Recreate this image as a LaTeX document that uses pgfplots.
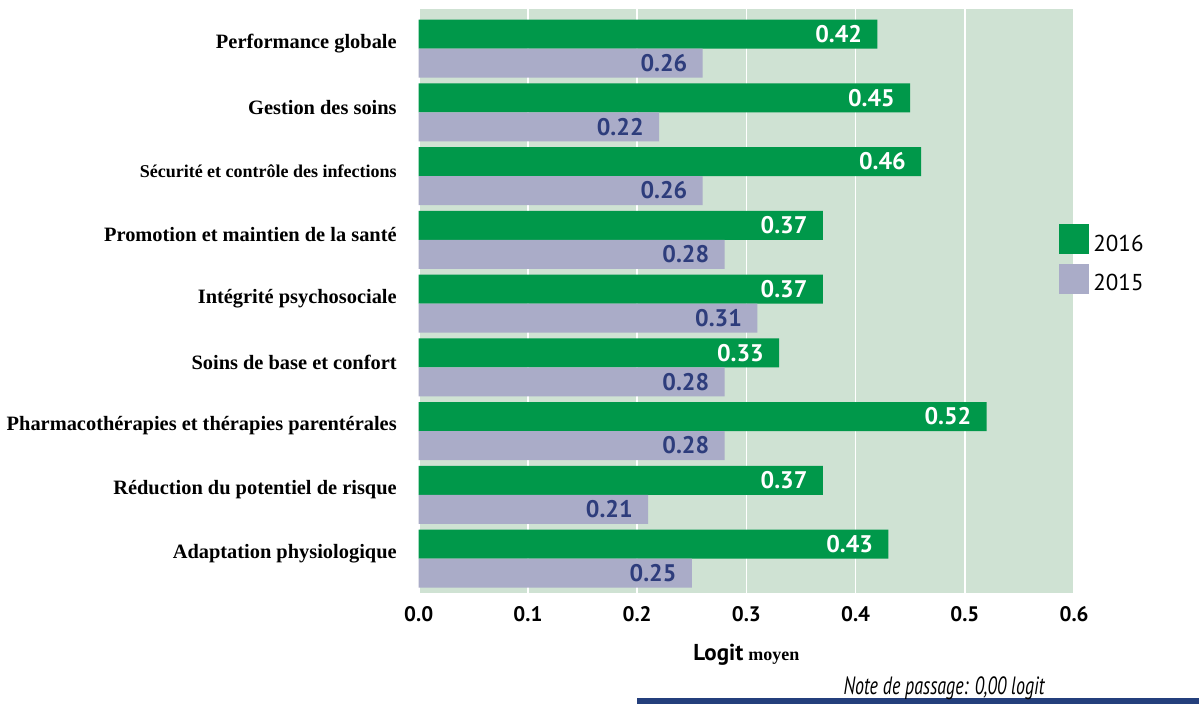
\documentclass[border=0pt]{standalone}
\usepackage{pgfplots}
\pgfplotsset{compat=1.18}
\usepackage{fontspec}
\usepackage{graphicx}
\setmainfont{Liberation Serif}
\newfontfamily\pts{PT Sans}
\definecolor{g16}{HTML}{00984A}
\definecolor{l15}{HTML}{AAACC8}
\definecolor{bg}{HTML}{CFE2D3}
\definecolor{navy}{HTML}{2E3D7C}
\definecolor{rulec}{HTML}{243F7C}
\begin{document}
\begin{tikzpicture}[x=1pt,y=1pt]
\useasboundingbox (0,0) rectangle (599.5,353);
\fill[rulec] (318.5,1) rectangle (599.5,4);
\node[anchor=base, inner sep=0pt] at (472,5.5) {\scalebox{0.72}[1]{\pts\itshape\fontsize{12.5}{14}\selectfont Note de passage: 0,00 logit}};
\begin{axis}[
  at={(209.35pt,56.5pt)}, anchor=south west,
  scale only axis, width=327.7pt, height=292pt,
  xbar, bar width=14.5pt,
  xmin=0, xmax=0.6, ymin=-0.62, ymax=8.54, y dir=reverse,
  axis background/.style={fill=bg},
  axis line style={draw=none},
  major tick length=0pt,
  xtick={0,0.1,0.2,0.3,0.4,0.5,0.6},
  ytick={0,1,2,3,4,5,6,7,8},
  yticklabels={Performance globale, Gestion des soins, {\fontsize{9}{10}\selectfont Sécurité et contrôle des infections}, Promotion et maintien de la santé, Intégrité psychosociale, Soins de base et confort, Pharmacothérapies et thérapies parentérales, Réduction du potentiel de risque, Adaptation physiologique},
  yticklabel style={font=\bfseries\fontsize{10.2}{12}\selectfont, inner sep=0pt, xshift=-10.8pt, yshift=2.5pt},
  xticklabel style={font=\pts\bfseries\fontsize{10.5}{12}\selectfont, yshift=-3pt},
  /pgf/number format/assume math mode=true,
  xticklabel={\pgfmathprintnumber[fixed,fixed zerofill,precision=1]{\tick}},
  xmajorgrids, grid style={white, line width=0.8pt},
  xlabel={{\pts\bfseries\fontsize{11.5}{12}\selectfont Logit} {\bfseries\fontsize{9}{10}\selectfont moyen}},
  x label style={at={(axis description cs:0.5,0)}, anchor=center, yshift=-31pt},
  point meta=x,
  nodes near coords={\pgfmathprintnumber[fixed,fixed zerofill,precision=2]{\pgfplotspointmeta}},
  every node near coord/.append style={anchor=east, inner sep=0pt, xshift=-7.5pt, font=\pts\bfseries\fontsize{12}{14}\selectfont},
  every axis plot/.append style={legend image code/.code={\fill[##1] (0pt,-5pt) rectangle (15pt,10pt);}},
  legend style={at={(0.977,0.632)}, anchor=north west, draw=none, fill=none, inner sep=0pt,
    font=\pts\fontsize{11.5}{14}\selectfont, row sep=3pt, cells={anchor=west}},
]
\addplot[fill=g16, draw=none, bar shift=7.25pt, every node near coord/.append style={text=white}] coordinates {
  (0.42,0) (0.45,1) (0.46,2) (0.37,3) (0.37,4) (0.33,5) (0.52,6) (0.37,7) (0.43,8)};
\addplot[fill=l15, draw=none, bar shift=-7.25pt, every node near coord/.append style={text=navy}] coordinates {
  (0.26,0) (0.22,1) (0.26,2) (0.28,3) (0.31,4) (0.28,5) (0.28,6) (0.21,7) (0.25,8)};
\legend{2016,2015}
\end{axis}
\end{tikzpicture}
\end{document}
